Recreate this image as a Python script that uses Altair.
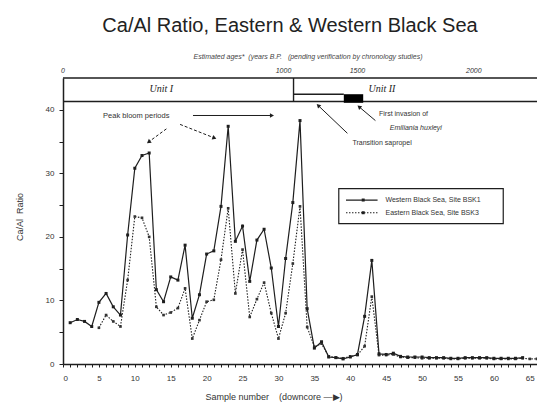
import math
import altair as alt
import pandas as pd

# ---------------- data ----------------
west_x = list(range(1, 65))
west_y = [6.5, 7.0, 6.7, 5.9, 9.7, 11.1, 9.0, 7.7, 20.3, 30.8,
          32.8, 33.2, 11.7, 9.8, 13.7, 13.2, 18.7, 7.2, 10.9, 17.3,
          17.8, 24.8, 37.4, 19.3, 21.7, 13.0, 19.5, 21.2, 15.1, 5.9,
          16.6, 25.4, 38.3, 8.7, 2.5, 3.5, 1.1, 1.0, 0.8, 1.1,
          1.5, 7.5, 16.3, 1.6, 1.5, 1.7, 1.2, 1.1, 1.1, 1.1,
          1.0, 1.0, 1.0, 0.9, 0.9, 1.0, 1.0, 1.0, 1.0, 0.9,
          0.9, 0.9, 0.9, 1.0]
east_x = list(range(5, 67))
east_y = [5.7, 7.7, 6.7, 5.9, 13.2, 23.2, 23.0, 20.0, 9.0, 7.7,
          8.1, 8.8, 11.9, 4.0, 6.9, 9.8, 10.1, 16.4, 24.5, 11.1,
          18.0, 7.4, 10.2, 12.8, 8.0, 4.0, 8.0, 15.8, 24.8, 5.8,
          2.7, 3.2, 1.2, 1.0, 0.9, 1.2, 1.4, 2.8, 10.6, 1.4,
          1.4, 1.5, 1.1, 1.0, 1.0, 0.9, 0.9, 0.9, 0.9, 0.8,
          0.8, 0.9, 0.9, 0.9, 0.9, 0.8, 0.8, 0.8, 0.8, 0.9,
          0.8, 0.8]

x_ticks = list(range(0, 67))
y_ticks = [0, 5, 10, 15, 20, 25, 30, 35, 40]

age_labels = ["0", "1000", "1500", "2000"]
age_pos = [0, 30.7, 41.0, 57.2]

series_names = ["Western Black Sea, Site BSK1", "Eastern Black Sea, Site BSK3"]

title_text = "Ca/Al Ratio, Eastern & Western Black Sea"
subtitle_text = "Estimated ages*\u00a0\u00a0(years B.P.\u00a0\u00a0\u00a0(pending verification by chronology studies)"
xtitle_text = "Sample number\u00a0\u00a0\u00a0\u00a0(downcore \u2014\u25b6)"
ytitle_text = "Ca/Al\u00a0\u00a0Ratio"

# band (stratigraphic units) in data units
band_top, band_bottom = 45.0, 41.3
unit_boundary = 32.1
sapropel_x = [32.1, 39.1]
invasion_x = [39.1, 41.8]
box_y = [41.1, 42.45]

# annotation arrows (x1, y1, x2, y2, dashed)
arrows = [
    (14.4, 37.0, 12.0, 35.0, True),
    (16.3, 37.7, 21.0, 35.6, True),
    (18.1, 39.1, 29.0, 39.1, False),
    (39.6, 36.3, 35.6, 40.6, False),
    (43.5, 38.3, 41.3, 40.4, False),
]

# ---------------- geometry ----------------
W, H = 474, 286
XMAX, YMAX = 66, 45
SX, SY = W / XMAX, H / YMAX

FONT = "Liberation Sans"
INK = "#1e1e1e"

xs = alt.Scale(domain=[0, XMAX], nice=False, zero=False)
ys = alt.Scale(domain=[0, YMAX], nice=False, zero=False)

west = pd.DataFrame({"x": west_x, "y": west_y})
east = pd.DataFrame({"x": east_x, "y": east_y})

x_axis = alt.Axis(values=x_ticks, labelExpr="datum.value % 5 == 0 ? datum.label : ''",
                  title=None, grid=False, tickSize=3, labelPadding=7, labelFont=FONT,
                  labelFontSize=8, labelColor="#333", domainColor=INK, domainWidth=1.5,
                  tickColor=INK, labelOverlap=False)
y_axis = alt.Axis(values=y_ticks, labelExpr="datum.value % 10 == 0 ? datum.label : ''",
                  title=None, grid=False, tickSize=4, labelPadding=5, labelFont=FONT,
                  labelFontSize=8, labelColor="#333", domainColor=INK, domainWidth=1.5,
                  tickColor=INK, labelOverlap=False)

X = lambda f="x": alt.X(f"{f}:Q", scale=xs, axis=x_axis)
Y = lambda f="y": alt.Y(f"{f}:Q", scale=ys, axis=y_axis)

west_line = alt.Chart(west).mark_line(color=INK, strokeWidth=1.2).encode(x=X(), y=Y())
west_pts = alt.Chart(west).mark_point(shape="square", filled=True, color=INK, size=9, opacity=1).encode(
    x=X(), y=Y())
east_line = alt.Chart(east).mark_line(color=INK, strokeWidth=1.1, strokeDash=[1.5, 1.5]).encode(
    x=X(), y=Y())
east_pts = alt.Chart(east).mark_point(shape="square", filled=True, color="#333", size=7, opacity=1).encode(
    x=X(), y=Y())

# band rules
band_rules = pd.DataFrame({
    "x": [0, 0, unit_boundary, unit_boundary],
    "x2": [XMAX, XMAX, unit_boundary, sapropel_x[1]],
    "y": [band_top, band_bottom, band_bottom, 42.45],
    "y2": [band_top, band_bottom, band_top, 42.45],
})
band = alt.Chart(band_rules).mark_rule(color=INK, strokeWidth=1.4).encode(
    x=X(), x2="x2:Q", y=Y(), y2="y2:Q")
black_box = alt.Chart(pd.DataFrame({"x": [invasion_x[0]], "x2": [invasion_x[1]],
                                    "y": [box_y[0]], "y2": [box_y[1]]})).mark_rect(
    color="#000").encode(x=X(), x2="x2:Q", y=Y(), y2="y2:Q")

units = alt.Chart(pd.DataFrame({"x": [13.7, 44.4], "y": [43.2, 43.2],
                                "t": ["Unit I", "Unit II"]})).mark_text(
    font="Liberation Serif", fontStyle="italic", fontSize=10, color="#222").encode(
    x=X(), y=Y(), text="t:N")

# top age labels
ages = alt.Chart(pd.DataFrame({"x": age_pos, "t": age_labels})).mark_text(
    font=FONT, fontStyle="italic", fontSize=7, color="#333", baseline="alphabetic").encode(
    x=X(), y=alt.value(-5), text="t:N")

# arrows
arr_rows, head_rows = [], []
for (x1, y1, x2, y2, d) in arrows:
    arr_rows.append({"x": x1, "y": y1, "x2": x2, "y2": y2, "d": d})
    dx = (x2 - x1) * SX
    dy = -(y2 - y1) * SY
    ang = math.degrees(math.atan2(dx, -dy)) % 360
    head_rows.append({"x": x2, "y": y2, "a": ang})
arr_df = pd.DataFrame(arr_rows)
arrow_solid = alt.Chart(arr_df[~arr_df.d]).mark_rule(color=INK, strokeWidth=1).encode(
    x=X(), x2="x2:Q", y=Y(), y2="y2:Q")
arrow_dash = alt.Chart(arr_df[arr_df.d]).mark_rule(color=INK, strokeWidth=1, strokeDash=[3, 2]).encode(
    x=X(), x2="x2:Q", y=Y(), y2="y2:Q")
heads = alt.Chart(pd.DataFrame(head_rows)).mark_point(shape="triangle", filled=True, color=INK,
                                                      size=22, opacity=1).encode(
    x=X(), y=Y(), angle=alt.Angle("a:Q", scale=None))

ann = pd.DataFrame({"x": [10.2, 44.0, 40.3], "y": [39.0, 39.4, 34.8],
                    "t": ["Peak bloom periods", "First invasion of", "Transition sapropel"],
                    "al": ["center", "left", "left"]})
ann_c = alt.Chart(ann[ann.al == "center"]).mark_text(font=FONT, fontSize=7.5, color="#333",
                                                     align="center").encode(x=X(), y=Y(), text="t:N")
ann_l = alt.Chart(ann[ann.al == "left"]).mark_text(font=FONT, fontSize=7, color="#333",
                                                   align="left").encode(x=X(), y=Y(), text="t:N")
ann_it = alt.Chart(pd.DataFrame({"x": [45.5], "y": [37.2], "t": ["Emiliania huxleyi"]})).mark_text(
    font=FONT, fontSize=7, fontStyle="italic", color="#333", align="left").encode(
    x=X(), y=Y(), text="t:N")

# legend box
leg_box = alt.Chart(pd.DataFrame({"x": [38.4], "x2": [61.3], "y": [22.1], "y2": [27.6]})).mark_rect(
    fill="white", stroke=INK, strokeWidth=1.2).encode(x=X(), x2="x2:Q", y=Y(), y2="y2:Q")
leg_lines = pd.DataFrame({"x": [39.4, 39.4], "x2": [43.8, 43.8], "y": [25.8, 23.8],
                          "y2": [25.8, 23.8]})
leg_l1 = alt.Chart(leg_lines.iloc[[0]]).mark_rule(color=INK, strokeWidth=1.2).encode(
    x=X(), x2="x2:Q", y=Y(), y2="y2:Q")
leg_l2 = alt.Chart(leg_lines.iloc[[1]]).mark_rule(color=INK, strokeWidth=1.1, strokeDash=[1.5, 1.5]).encode(
    x=X(), x2="x2:Q", y=Y(), y2="y2:Q")
leg_pts = alt.Chart(pd.DataFrame({"x": [41.8, 41.8], "y": [25.8, 23.8]})).mark_point(
    shape="square", filled=True, color=INK, size=9, opacity=1).encode(x=X(), y=Y())
leg_txt = alt.Chart(pd.DataFrame({"x": [44.9, 44.9], "y": [25.8, 23.8], "t": series_names})).mark_text(
    font=FONT, fontSize=7, color="#333", align="left").encode(x=X(), y=Y(), text="t:N")

# titles (outside plot area)
title = alt.Chart(pd.DataFrame({"t": [title_text]})).mark_text(
    font=FONT, fontSize=20, color="#222", align="center", baseline="alphabetic").encode(
    x=alt.value(227), y=alt.value(-46), text="t:N")
subtitle = alt.Chart(pd.DataFrame({"t": [subtitle_text]})).mark_text(
    font=FONT, fontSize=7, fontStyle="italic", color="#444", align="center", baseline="alphabetic").encode(
    x=alt.value(245), y=alt.value(-19), text="t:N")
ytitle = alt.Chart(pd.DataFrame({"t": [ytitle_text]})).mark_text(
    font=FONT, fontSize=9, color="#333", align="center", baseline="middle", angle=270).encode(
    x=alt.value(-43), y=alt.value(139), text="t:N")
xtitle = alt.Chart(pd.DataFrame({"t": [xtitle_text]})).mark_text(
    font=FONT, fontSize=9, color="#333", align="center", baseline="alphabetic").encode(
    x=alt.value(211), y=alt.value(322), text="t:N")

chart = alt.layer(
    west_line, band, black_box, units, ages, arrow_solid, arrow_dash, heads,
    ann_c, ann_l, ann_it, leg_box, leg_l1, leg_l2, leg_pts, leg_txt,
    east_line, east_pts, west_pts, title, subtitle, ytitle, xtitle,
).properties(
    width=W, height=H,
    padding={"left": 55, "top": 70, "right": 0, "bottom": 40},
    autosize=alt.AutoSizeParams(type="none"),
    background="white",
).configure_view(stroke=None)

chart.save("out.html", embed_options={"renderer": "svg", "actions": False})
